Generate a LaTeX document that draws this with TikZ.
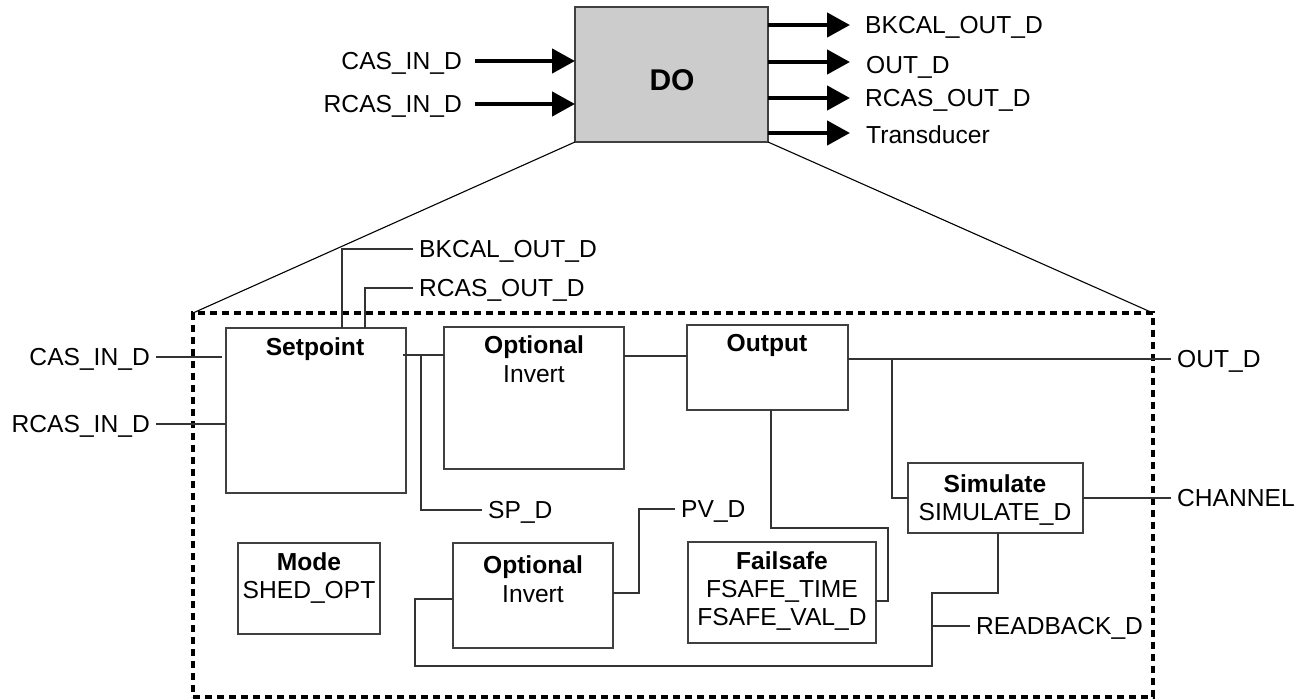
\documentclass[tikz,border=0pt]{standalone}
\usepackage{fontspec}
\setmainfont{Liberation Sans}
\usetikzlibrary{arrows.meta}

\begin{document}
\begin{tikzpicture}[x=1pt,y=-1pt,
  font=\fontsize{24.6pt}{29pt}\selectfont,
  wire/.style={draw=black!80, line width=1.1pt},
  blk/.style={draw=black!75, line width=1.2pt, inner sep=0pt, outer sep=0pt},
  lblw/.style={anchor=west, inner xsep=6pt, inner ysep=0pt, text height=17.6pt, text depth=0pt},
  lble/.style={anchor=east, inner xsep=6pt, inner ysep=0pt, text height=17.6pt, text depth=0pt},
  txt/.style={anchor=center, inner sep=0pt, text height=17.6pt, text depth=0pt},
  ttl/.style={txt, font=\fontsize{24.6pt}{29pt}\selectfont\bfseries},
  bigarrow/.style={draw=black, line width=4.5pt, -{Triangle[length=23pt,width=24pt]}},
  framebox/.style={draw=black, line width=3.5pt, dash pattern=on 7pt off 5pt, inner sep=0pt, outer sep=0pt}
]
\useasboundingbox (0,0) rectangle (1307,700);

% ---------- function block ----------
\node[blk, fill=black!20, minimum width=193pt, minimum height=135pt] (do) at (671.5,74.5) {};
\node[txt, font=\fontsize{30pt}{36pt}\selectfont\bfseries, text height=21.5pt] (dotxt) at (672,80) {DO};

% inputs
\coordinate (s1) at (475,61);
\coordinate (s2) at (475,104);
\node[lble, inner xsep=0pt] (casin) at (462,61) {CAS\_IN\_D};
\node[lble, inner xsep=0pt] (rcasin) at (462,104) {RCAS\_IN\_D};
\draw[bigarrow] (s1) -- (s1 -| do.west);
\draw[bigarrow] (s2) -- (s2 -| do.west);

% outputs
\coordinate (t1) at (850,25);
\coordinate (t2) at (850,62);
\coordinate (t3) at (850,98);
\coordinate (t4) at (850,133);
\draw[bigarrow] (t1 -| do.east) -- (t1);
\draw[bigarrow] (t2 -| do.east) -- (t2);
\draw[bigarrow] (t3 -| do.east) -- (t3);
\draw[bigarrow] (t4 -| do.east) -- (t4);
\node[lblw, inner xsep=0pt] (bkout) at (865,25) {BKCAL\_OUT\_D};
\node[lblw, inner xsep=0pt] (outd0) at (866,65) {OUT\_D};
\node[lblw, inner xsep=0pt] (rcout) at (865,98) {RCAS\_OUT\_D};
\node[lblw, inner xsep=0pt] (trans) at (866,135) {Transducer};

% ---------- expanded view ----------
\node[framebox, minimum width=960pt, minimum height=384pt] (frame) at (673,505) {};
\draw[wire, black] (do.south west) -- (frame.north west);
\draw[wire, black] (do.south east) -- (frame.north east);

% blocks
\node[blk, minimum width=180pt, minimum height=165pt] (sp) at (316,410.5) {};
\node[blk, minimum width=180pt, minimum height=142pt] (opt1) at (534,398) {};
\node[blk, minimum width=161pt, minimum height=85pt] (out) at (767.5,367.5) {};
\node[blk, minimum width=175pt, minimum height=70pt] (sim) at (995.5,498) {};
\node[blk, minimum width=142pt, minimum height=91pt] (mode) at (309,588.5) {};
\node[blk, minimum width=160pt, minimum height=105pt] (opt2) at (533,595.5) {};
\node[blk, minimum width=188pt, minimum height=101pt] (fs) at (782,592.5) {};

% block texts
\node[ttl] (sptxt) at (315,347) {Setpoint};
\node[ttl] (opt1a) at (534,345) {Optional};
\node[txt] (opt1b) at (534,374) {Invert};
\node[ttl] (outtxt) at (767,343) {Output};
\node[ttl] (sima) at (995,484) {Simulate};
\node[txt] (simb) at (995,512) {SIMULATE\_D};
\node[ttl] (modea) at (309,562) {Mode};
\node[txt] (modeb) at (309,590) {SHED\_OPT};
\node[ttl] (opt2a) at (533,565) {Optional};
\node[txt] (opt2b) at (533,594) {Invert};
\node[ttl] (fsa) at (782,561) {Failsafe};
\node[txt] (fsb) at (782,589) {FSAFE\_TIME};
\node[txt] (fsc) at (782,617) {FSAFE\_VAL\_D};

% parameter labels
\node[lble] (cin) at (156,357) {CAS\_IN\_D};
\node[lble] (rin) at (156,424) {RCAS\_IN\_D};
\node[lblw] (bko) at (413,249) {BKCAL\_OUT\_D};
\node[lblw] (rco) at (413,288) {RCAS\_OUT\_D};
\node[lblw] (spd) at (482,510) {SP\_D};
\node[lblw] (pvd) at (675,509) {PV\_D};
\node[lblw] (outd) at (1171,359) {OUT\_D};
\node[lblw] (chan) at (1171,498) {CHANNEL};
\node[lblw] (rb) at (970,626) {READBACK\_D};

% junction points
\coordinate (bkin) at (342,328);
\coordinate (rcin) at (365,328);
\coordinate (a1) at (403,355);
\coordinate (j1) at (421,355);
\coordinate (a2) at (624,356);
\coordinate (a3) at (848,359);
\coordinate (j2) at (892,359);
\coordinate (a4) at (771,410);
\coordinate (k1) at (888,528);
\coordinate (k2) at (876,601);
\coordinate (b1) at (613,593);
\coordinate (b2) at (639,593);
\coordinate (c1) at (998,533);
\coordinate (c2) at (932,593);
\coordinate (c3) at (415,666);
\coordinate (c4) at (453,599);
\coordinate (j3) at (932,626);
\coordinate (e1) at (222,357);

% connections
\draw[wire] (cin.east) -- (e1);
\draw[wire] (rin.east) -- (rin.east -| sp.west);
\draw[wire] (bko.west) -| (bkin);
\draw[wire] (rco.west) -| (rcin);
\draw[wire] (a1) -- (a1 -| opt1.west);
\draw[wire] (j1) |- (spd.west);
\draw[wire] (a2) -- (a2 -| out.west);
\draw[wire] (a3) -- (outd.west);
\draw[wire] (j2) |- (sim.west);
\draw[wire] (sim.east) -- (chan.west);
\draw[wire] (a4) |- (k1) |- (k2);
\draw[wire] (b1) -- (b2) |- (pvd.west);
\draw[wire] (c1) |- (c2) -- (c2 |- c3) -- (c3) |- (c4);
\draw[wire] (j3) -- (rb.west);
\end{tikzpicture}
\end{document}
